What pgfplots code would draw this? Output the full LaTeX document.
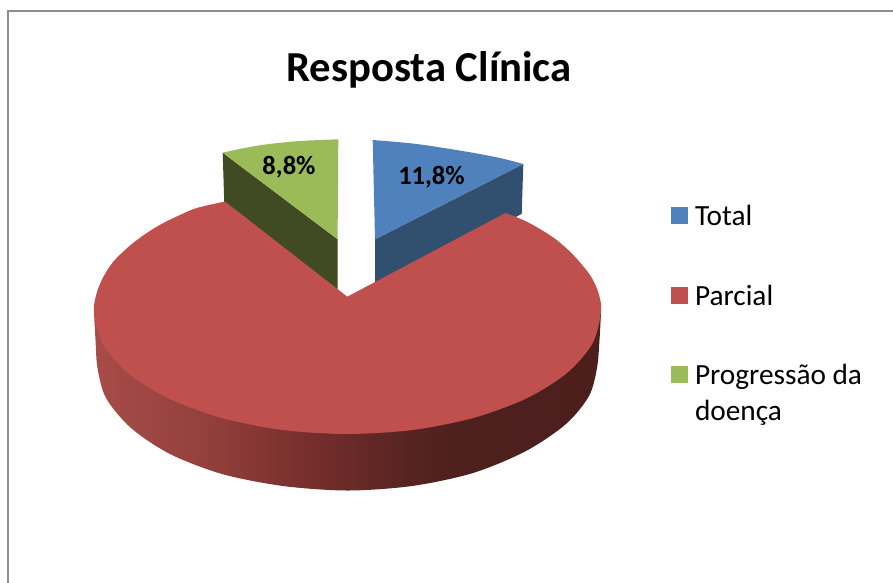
\documentclass[border=0pt]{standalone}
\usepackage{pgfplots}
\pgfplotsset{compat=1.18}
\usepackage{fontspec}
\setmainfont{Carlito}
\definecolor{cblue}{HTML}{4F81BD}
\definecolor{cred}{HTML}{C0504D}
\definecolor{cgreen}{HTML}{9BBB59}
\definecolor{sblue}{HTML}{31506F}
\definecolor{sgreen}{HTML}{414B23}
\definecolor{framec}{HTML}{8E8E8E}
\pgfdeclarehorizontalshading{redside}{100bp}{
 rgb(0bp)=(0.655,0.298,0.286);
 rgb(25bp)=(0.655,0.298,0.286);
 rgb(36bp)=(0.576,0.251,0.235);
 rgb(45bp)=(0.478,0.188,0.180);
 rgb(50bp)=(0.416,0.165,0.157);
 rgb(55bp)=(0.353,0.145,0.137);
 rgb(60bp)=(0.306,0.125,0.118);
 rgb(75bp)=(0.298,0.122,0.114);
 rgb(100bp)=(0.298,0.122,0.114)}
\begin{document}
\begin{tikzpicture}
\path[use as bounding box] (0,0) rectangle (893pt,582pt);
\begin{axis}[
  at={(0pt,0pt)}, anchor=south west,
  scale only axis, width=893pt, height=582pt,
  xmin=0, xmax=893, ymin=0, ymax=582, y dir=reverse,
  axis lines=none, clip=true,
  legend style={at={(axis cs:671,205.5)}, anchor=north west, draw=none, fill=none,
    inner sep=0pt, outer sep=0pt, row sep=58pt, column sep=7pt,
    font=\fontsize{29.3}{36}\selectfont,
    nodes={inner sep=0pt, outer sep=0pt}},
  legend cell align=left,
  legend image code/.code={\fill[#1] (0pt,-8pt) rectangle (17pt,9pt);},
]
\addlegendimage{fill=cblue,draw=none}
\addlegendentry{\raisebox{0pt}[20pt][8pt]{Total}}
\addlegendimage{fill=cred,draw=none}
\addlegendentry{\raisebox{0pt}[20pt][8pt]{Parcial}}
\addlegendimage{fill=cgreen,draw=none}
\addlegendentry{\raisebox{0pt}[20pt][8pt]{\begin{tabular}[t]{@{}l@{}}Progressão da\\doença\end{tabular}}}

% frame
\addplot[forget plot,framec,line width=1.8pt] coordinates {(8.3,590)(8.3,11.2)(900,11.2)};

% green slice
\addplot[forget plot,fill=sgreen,draw=none] coordinates {(222.7,152.7)(337.6,239.3)(337.6,292)(224.3,205)} -- cycle;
\addplot[forget plot,fill=cgreen,draw=none,smooth] coordinates {(222.7,152.7)(243,148.3)(266.7,144.3)(300,141)(338.3,139.3)} -- (axis cs:337.6,239.3) -- cycle;

% blue slice
\addplot[forget plot,fill=sblue,draw=none] coordinates {(375,239.3)(523.3,164)(521.7,214)(375,285)} -- cycle;
\addplot[forget plot,fill=cblue,draw=none,smooth] coordinates {(372.7,140)(416.7,144)(466.7,151.7)(500,158)(523.3,164)} -- (axis cs:375,239.3) -- cycle;

% red side
\addplot[forget plot,shading=redside,draw=none,smooth] coordinates {(94,312)(95.5,340)(97.5,368)(106,398)(131,428)(170,454)(222,474)(283,486)(347.5,490.5)(412,486)(473,473)(526,451)(566,424)(589,396)(597,368)(599.5,340)(601,312)} -- cycle;

% red top
\addplot[forget plot,fill=cred,draw=none,smooth] coordinates {(505.5,213)(523.3,220)(540,229)(556.7,240)(573.3,255)(590,275)(598.5,293)(601,312)(592.4,343.6)(567,373)(526.7,398.3)(474.25,417.7)(413.2,429.9)(347.5,434)(281.8,429.9)(220.75,417.7)(168.3,398.3)(128,373)(102.6,343.6)(94,312)(96.7,293)(103.3,277)(113.3,261.7)(130,245.5)(146.7,233)(163.3,223)(180,215)(196.7,208)(225,201.5)} -- (axis cs:347.3,296.7) -- cycle;

% text
\node[anchor=base,inner sep=0pt,font=\fontsize{42.7}{42.7}\selectfont\bfseries] at (axis cs:429,81) {Resposta Clínica};
\node[anchor=base,inner sep=0pt,font=\fontsize{26.5}{26.5}\selectfont\bfseries] at (axis cs:289,174) {8,8\%};
\node[anchor=base,inner sep=0pt,font=\fontsize{26.5}{26.5}\selectfont\bfseries] at (axis cs:431.5,184) {11,8\%};
\end{axis}
\end{tikzpicture}
\end{document}
